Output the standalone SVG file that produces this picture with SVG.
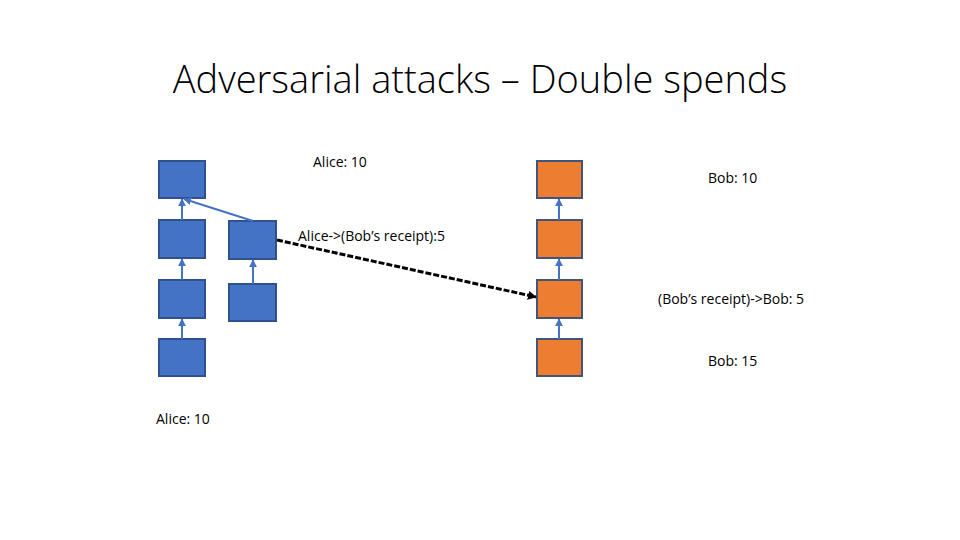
<svg xmlns="http://www.w3.org/2000/svg" width="960" height="540" viewBox="0 0 960 540">
<style>
.b{fill:#4472c4;stroke:#2f528f;stroke-width:2}
.o{fill:#ed7d31;stroke:#41557a;stroke-width:2}
.c{stroke:#4472c4;stroke-width:2;fill:none;marker-end:url(#a)}
text{font-family:"Open Sans","Liberation Sans",sans-serif;fill:#000}
.t{font-size:14px}
</style>
<defs>
<marker id="a" viewBox="0 0 10 10" refX="9" refY="5" markerWidth="4" markerHeight="4" orient="auto"><path d="M0,0L10,5L0,10z" fill="#4472c4"/></marker>
<marker id="k" viewBox="0 0 10 10" refX="9" refY="5" markerWidth="3" markerHeight="3" orient="auto"><path d="M0,0L10,5L0,10z" fill="#000"/></marker>
</defs>
<text x="480" y="93" text-anchor="middle" font-size="38" font-weight="300">Adversarial attacks – Double spends</text>
<g id="L1"><rect class="b" x="159" y="161" width="46" height="37"/></g>
<g id="L2"><rect class="b" x="159" y="220" width="46" height="38"/></g>
<g id="L3"><rect class="b" x="159" y="280" width="46" height="38"/></g>
<g id="L4"><rect class="b" x="159" y="339" width="46" height="37"/></g>
<g id="F1"><rect class="b" x="229" y="221" width="47" height="38"/></g>
<g id="F2"><rect class="b" x="229" y="284" width="47" height="37"/></g>
<g id="R1"><rect class="o" x="537" y="161" width="45" height="37"/></g>
<g id="R2"><rect class="o" x="537" y="220" width="45" height="38"/></g>
<g id="R3"><rect class="o" x="537" y="280" width="45" height="38"/></g>
<g id="R4"><rect class="o" x="537" y="339" width="45" height="37"/></g>
<g id="connectors">
<line class="c" x1="182" y1="339" x2="182" y2="319"/>
<line class="c" x1="182" y1="280" x2="182" y2="259"/>
<line class="c" x1="182" y1="220" x2="182" y2="199"/>
<line class="c" x1="253" y1="284" x2="253" y2="260"/>
<line class="c" x1="253" y1="221" x2="184" y2="199"/>
<line class="c" x1="559" y1="339" x2="559" y2="319"/>
<line class="c" x1="559" y1="280" x2="559" y2="259"/>
<line class="c" x1="559" y1="220" x2="559" y2="199"/>
<line x1="277" y1="240" x2="536" y2="297" stroke="#000" stroke-width="3" stroke-dasharray="6,2" marker-end="url(#k)"/>
</g>
<text class="t" x="313" y="167">Alice: 10</text>
<text class="t" x="708" y="183">Bob: 10</text>
<text class="t" x="298" y="241">Alice-&gt;(Bob’s receipt):5</text>
<text class="t" x="658" y="304">(Bob’s receipt)-&gt;Bob: 5</text>
<text class="t" x="708" y="366">Bob: 15</text>
<text class="t" x="156" y="424">Alice: 10</text>
</svg>
